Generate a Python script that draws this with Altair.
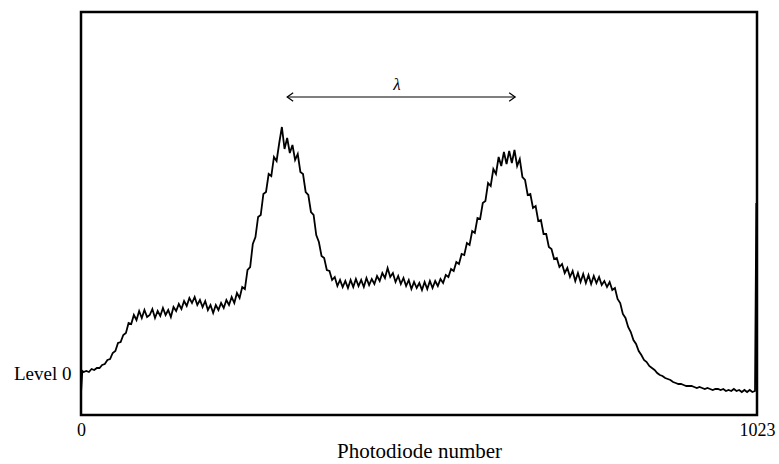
import altair as alt
import pandas as pd

# Photodiode numbers (grid every 4 diodes plus a few end points)
start_diodes = [0, 2]
start_values = [-20, 2]
grid_diodes = list(range(4, 1017, 4))
grid_values = [
    1, 2, 1, 4, 3, 5, 5, 8, 9, 13,
    14, 20, 22, 30, 31, 38, 40, 50, 49, 58,
    53, 62, 55, 63, 56, 58, 64, 55, 62, 57,
    65, 58, 63, 56, 66, 62, 69, 64, 72, 67,
    75, 70, 76, 68, 73, 66, 72, 63, 68, 60,
    68, 63, 70, 65, 73, 68, 76, 70, 80, 75,
    86, 84, 103, 106, 129, 136, 156, 158, 179, 181,
    199, 197, 216, 212, 230, 246, 224, 235, 220, 228,
    213, 219, 201, 199, 181, 178, 161, 158, 138, 131,
    117, 115, 103, 102, 93, 96, 87, 93, 86, 92,
    85, 93, 86, 94, 87, 93, 86, 95, 88, 94,
    89, 97, 92, 100, 95, 105, 96, 100, 91, 97,
    89, 95, 87, 93, 84, 91, 85, 90, 83, 91,
    84, 92, 85, 92, 87, 94, 90, 98, 96, 104,
    102, 111, 109, 119, 118, 130, 128, 142, 140, 155,
    154, 170, 172, 190, 187, 204, 199, 216, 207, 221,
    209, 222, 210, 223, 207, 214, 196, 193, 178, 179,
    165, 167, 152, 153, 139, 139, 126, 124, 114, 115,
    106, 109, 100, 105, 96, 102, 92, 100, 91, 99,
    90, 98, 89, 97, 90, 96, 88, 92, 86, 91,
    83, 85, 74, 70, 59, 55, 46, 41, 33, 29,
    22, 18, 13, 11, 7, 5, 3, 0, -2, -3,
    -5, -6, -7, -9, -10, -11, -11, -12, -13, -13,
    -13, -14, -15, -14, -15, -16, -15, -16, -17, -16,
    -16, -17, -16, -18, -17, -18, -16, -18, -17, -19,
    -17, -19, -17, -19,
]
end_diodes = [1020, 1022, 1023]
end_values = [-18, 170, 86]

diodes = start_diodes + grid_diodes + end_diodes
values = start_values + grid_values + end_values

# lambda annotation
arrow_from = [312]
arrow_to = [657]
arrow_level = [276]
lambda_pos = [478]
lambda_level = [288]

df = pd.DataFrame({"d": diodes, "v": values})

xs = alt.Scale(domain=[0, 1023], nice=False, zero=False)
ys = alt.Scale(domain=[-42, 361], nice=False, zero=False)

FONT = "Liberation Serif"

line = alt.Chart(df).mark_line(color="black", strokeWidth=1.8).encode(
    x=alt.X("d:Q", scale=xs,
            axis=alt.Axis(values=[0, 1023], format="d", ticks=False, domain=False, grid=False,
                          labelFont=FONT, labelFontSize=18, labelColor="black", labelPadding=6,
                          labelFlush=False,
                          title="Photodiode number", titleFont=FONT, titleFontSize=21,
                          titleFontWeight="normal", titleColor="black", titlePadding=1)),
    y=alt.Y("v:Q", scale=ys,
            axis=alt.Axis(values=[0], labelExpr="'Level 0'", ticks=False, domain=False, grid=False,
                          labelFont=FONT, labelFontSize=19, labelColor="black", labelPadding=10,
                          title=None)),
)

adf = pd.DataFrame({"a": arrow_from, "b": arrow_to, "y": arrow_level})
arrow = alt.Chart(adf).mark_rule(color="black", strokeWidth=1.2).encode(
    x=alt.X("a:Q", scale=xs), x2="b:Q", y=alt.Y("y:Q", scale=ys)
)
left_head = alt.Chart(adf).mark_point(
    shape="M1,-0.7L0,0L1,0.7", filled=False, color="black", strokeWidth=1.2, size=144, opacity=1
).encode(x=alt.X("a:Q", scale=xs), y=alt.Y("y:Q", scale=ys))
right_head = alt.Chart(adf).mark_point(
    shape="M-1,-0.7L0,0L-1,0.7", filled=False, color="black", strokeWidth=1.2, size=144, opacity=1
).encode(x=alt.X("b:Q", scale=xs), y=alt.Y("y:Q", scale=ys))

ldf = pd.DataFrame({"x": lambda_pos, "y": lambda_level, "t": ["λ"]})
lam = alt.Chart(ldf).mark_text(font=FONT, fontSize=17, fontStyle="italic", color="black").encode(
    x=alt.X("x:Q", scale=xs), y=alt.Y("y:Q", scale=ys), text="t:N"
)

chart = alt.layer(line, arrow, left_head, right_head, lam).properties(
    width=676, height=403,
    autosize=alt.AutoSizeParams(type="none"),
    padding={"left": 81, "top": 12, "right": 22, "bottom": 49},
).configure_view(stroke="black", strokeWidth=2.5)

chart.save("out.html", embed_options={"renderer": "svg", "actions": False})
